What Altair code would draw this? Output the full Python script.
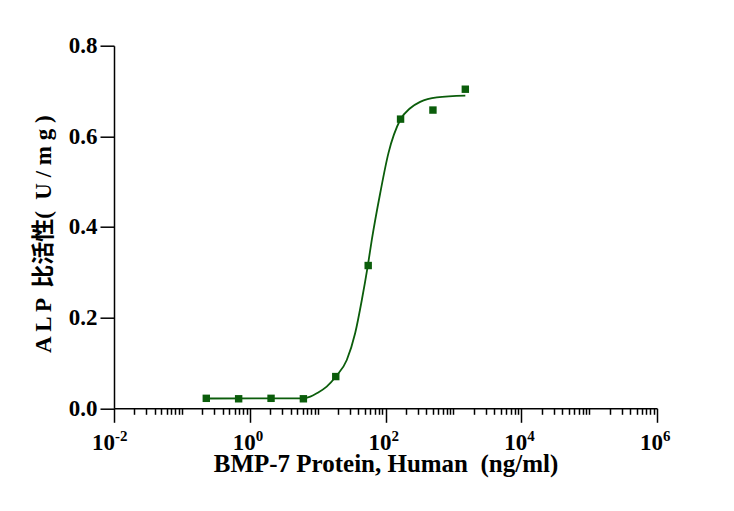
import altair as alt
import pandas as pd

# measured points: BMP-7 concentration (ng/ml) vs ALP specific activity (U/mg)
CONC = [0.229, 0.686, 2.06, 6.17, 18.5, 55.6, 166.7, 500, 1500]
ALP = [0.022, 0.021, 0.022, 0.021, 0.070, 0.315, 0.638, 0.658, 0.704]

# fitted curve
CURVE_X = [0.227, 6.11, 7.79, 9.73, 13.6, 18.7, 26.9, 35.7, 44.8, 54.9, 62.9,
           83.4, 110.5, 164.4, 230.8, 324, 571, 1500]
CURVE_Y = [0.0216, 0.022, 0.0256, 0.0331, 0.0477, 0.0706, 0.1066, 0.1655, 0.239,
           0.315, 0.372, 0.474, 0.563, 0.636, 0.662, 0.676, 0.686, 0.690]

# axis ticks
DECADES = [0.01, 1, 100, 10000, 1000000]
EXPONENTS = ['-2', '0', '2', '4', '6']
ALL_DECADES = [10.0 ** k for k in range(-2, 7)]
MINOR = [m * d for d in ALL_DECADES[:-1] for m in range(2, 10)]
Y_TICKS = [0.0, 0.2, 0.4, 0.6, 0.8]

X_TITLE = 'BMP-7 Protein, Human \u00a0(ng/ml)'
Y_TITLE = 'A L P \u00a0比活性( \u00a0U / m g )'

GREEN = '#0b5d0b'
SERIF = 'Liberation Serif, Times New Roman, serif'
TITLE_FONT = 'Liberation Serif, Noto Sans CJK SC, serif'

PLOT_W = 543
PLOT_H = 362.6

points_df = pd.DataFrame({'conc': CONC, 'alp': ALP})
curve_df = pd.DataFrame({'conc': CURVE_X, 'alp': CURVE_Y})
exp_df = pd.DataFrame({'conc': DECADES, 'exp': EXPONENTS})

major_test = 'indexof([{}], datum.value) >= 0'.format(','.join(str(v) for v in DECADES))

xscale = alt.Scale(type='log', domain=[0.01, 1000000], nice=False)
yscale = alt.Scale(domain=[0, 0.8], nice=False, zero=False)

xaxis = alt.Axis(
    values=sorted(ALL_DECADES + MINOR),
    labelExpr="{} ? '10' : ''".format(major_test),
    labelOverlap=False,
    labelFlush=False,
    labelFont=SERIF,
    labelFontSize=23,
    labelFontWeight='bold',
    labelColor='black',
    labelPadding=9,
    labelOffset={'condition': {'test': 'datum.value == 0.01', 'value': -11}, 'value': -6},
    tickSize={'condition': {'test': major_test, 'value': 14}, 'value': 6},
    tickColor='black',
    tickWidth=1.5,
    domainColor='black',
    domainWidth=1.5,
    grid=False,
    title=X_TITLE,
    titleFont=SERIF,
    titleFontSize=25,
    titleFontWeight='bold',
    titleColor='black',
    titleBaseline='alphabetic',
    titleY=63,
)

yaxis = alt.Axis(
    values=Y_TICKS,
    format='.1f',
    labelFont=SERIF,
    labelFontSize=23,
    labelFontWeight='bold',
    labelColor='black',
    labelPadding=3,
    tickSize=14,
    tickColor='black',
    tickWidth=1.5,
    domainColor='black',
    domainWidth=1.5,
    grid=False,
    title=Y_TITLE,
    titleFont=TITLE_FONT,
    titleFontSize=23,
    titleFontWeight='bold',
    titleColor='black',
    titleAngle=-90,
    titleBaseline='alphabetic',
    titleAlign='center',
    titleX=-64,
    titleY=188,
)

curve = alt.Chart(curve_df).mark_line(
    color=GREEN, strokeWidth=1.8, interpolate='monotone'
).encode(
    x=alt.X('conc:Q', scale=xscale, axis=xaxis),
    y=alt.Y('alp:Q', scale=yscale, axis=yaxis),
)

dots = alt.Chart(points_df).mark_square(
    color=GREEN, size=55, opacity=1, filled=True
).encode(
    x=alt.X('conc:Q', scale=xscale),
    y=alt.Y('alp:Q', scale=yscale),
)

# superscript exponents of the decade labels
exp_base = alt.Chart(exp_df).encode(
    x=alt.X('conc:Q', scale=xscale),
    y=alt.value(PLOT_H + 33),
    text='exp:N',
)
exp_style = dict(font=SERIF, fontSize=15, fontWeight='bold', color='black',
                 align='left', baseline='alphabetic', clip=False)
exp_neg = exp_base.transform_filter('datum.conc < 1').mark_text(dx=1, **exp_style)
exp_pos = exp_base.transform_filter('datum.conc >= 1').mark_text(dx=6, **exp_style)

chart = (curve + dots + exp_neg + exp_pos).properties(
    width=PLOT_W,
    height=PLOT_H,
    autosize=alt.AutoSizeParams(type='none'),
    padding={'left': 106, 'top': 37.7, 'right': 60, 'bottom': 90},
    background='white',
).configure_view(stroke=None)

chart.save('out.html', embed_options={'renderer': 'svg', 'actions': False})
